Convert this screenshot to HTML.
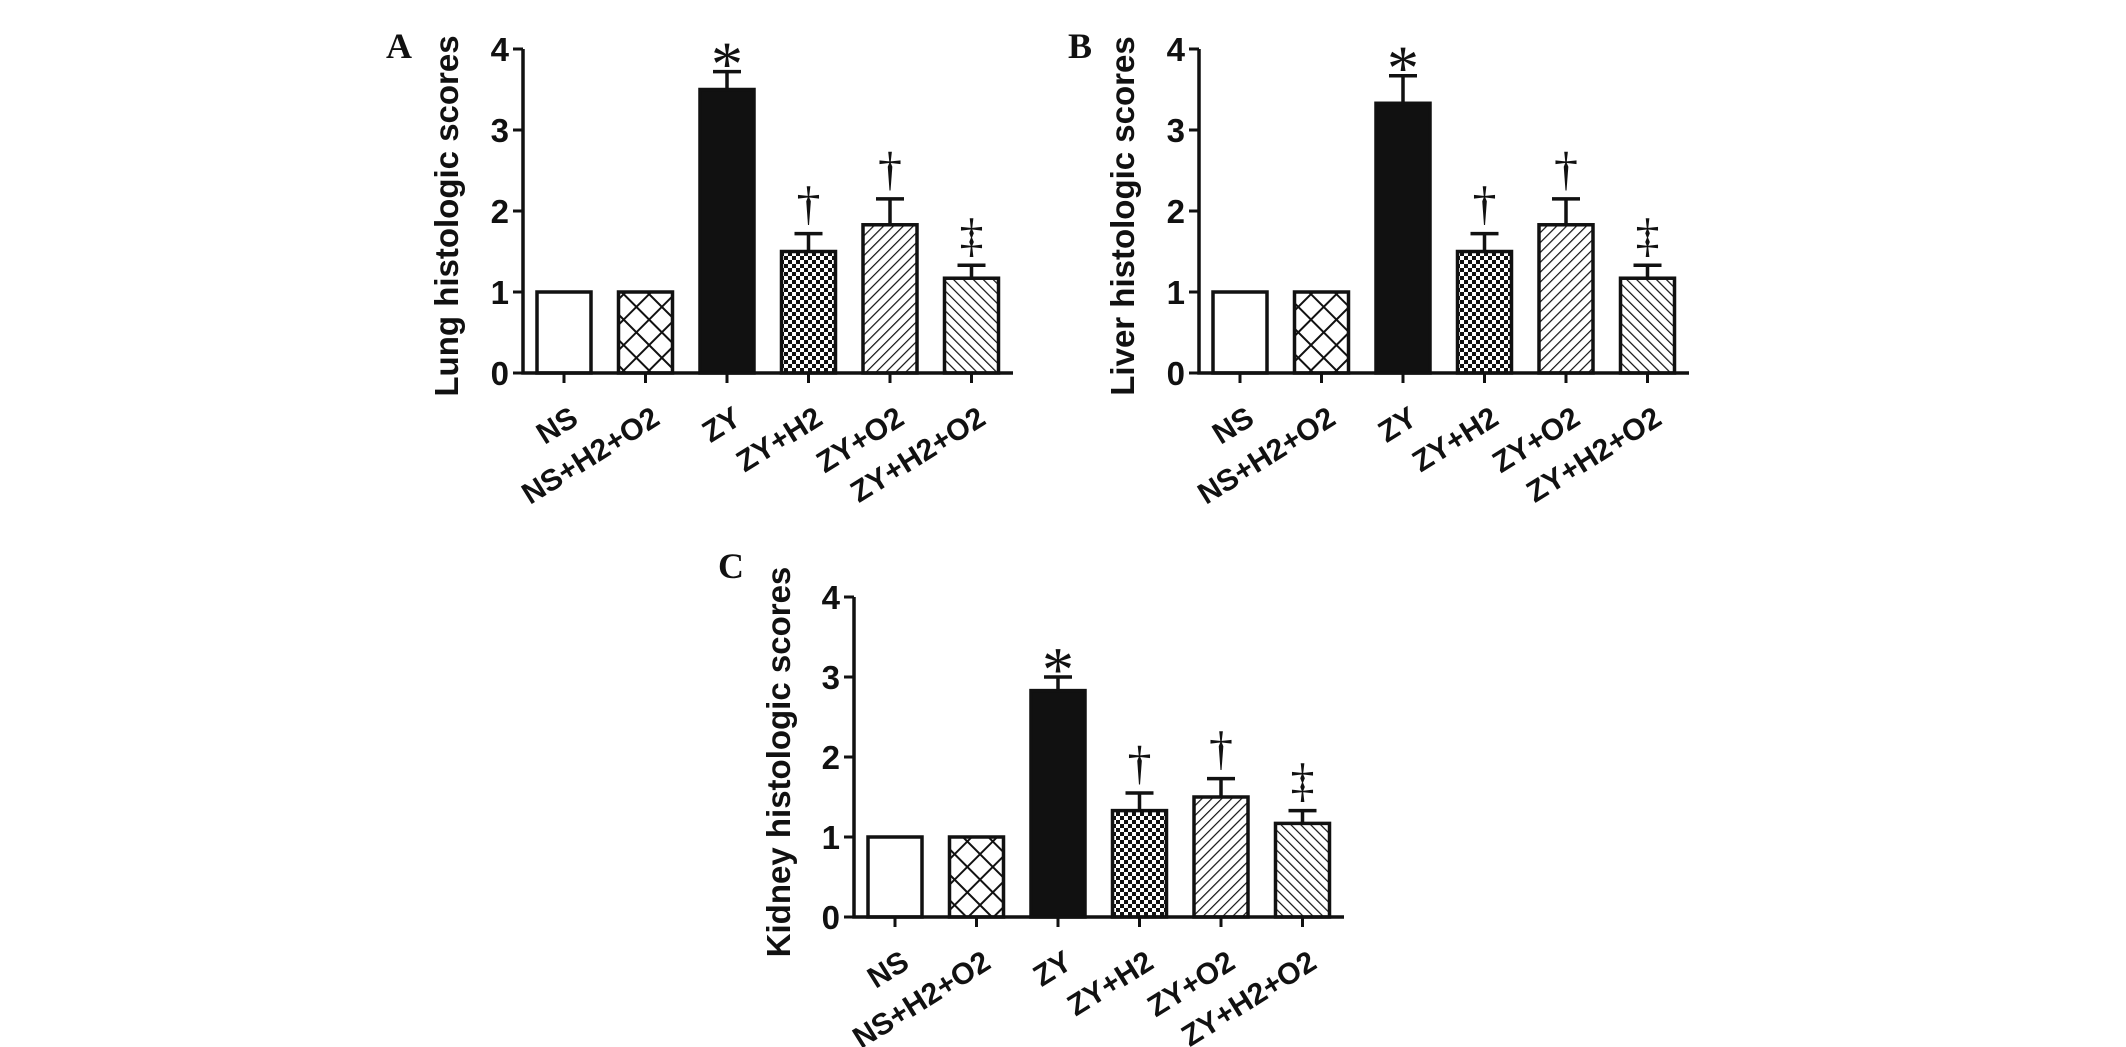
<!DOCTYPE html>
<html><head><meta charset="utf-8">
<style>
html,body{margin:0;padding:0;background:#fff;}
svg{display:block;}
</style></head>
<body>
<svg id="fig" width="2126" height="1047" viewBox="0 0 2126 1047" xmlns="http://www.w3.org/2000/svg">
<defs>
<pattern id="pCross" patternUnits="userSpaceOnUse" width="18" height="18" patternTransform="rotate(45)">
<rect width="18" height="18" fill="#fff"/>
<line x1="0" y1="0" x2="0" y2="18" stroke="#111" stroke-width="4"/>
<line x1="0" y1="0" x2="18" y2="0" stroke="#111" stroke-width="4"/>
</pattern>
<pattern id="pCheck" patternUnits="userSpaceOnUse" width="8" height="8">
<rect width="8" height="8" fill="#fff"/>
<rect x="0" y="0" width="4" height="4" fill="#111"/>
<rect x="4" y="4" width="4" height="4" fill="#111"/>
</pattern>
<pattern id="pFwd" patternUnits="userSpaceOnUse" width="7" height="7" patternTransform="rotate(45)">
<rect width="7" height="7" fill="#fff"/>
<line x1="0" y1="0" x2="0" y2="7" stroke="#111" stroke-width="2.4"/>
</pattern>
<pattern id="pBack" patternUnits="userSpaceOnUse" width="7" height="7" patternTransform="rotate(-45)">
<rect width="7" height="7" fill="#fff"/>
<line x1="0" y1="0" x2="0" y2="7" stroke="#111" stroke-width="2.4"/>
</pattern>
</defs>
</svg>
<script>
const categories = ["NS","NS+H2+O2","ZY","ZY+H2","ZY+O2","ZY+H2+O2"];
const lungMeans = [1,1,3.5,1.5,1.83,1.17];
const lungErr = [0,0,0.22,0.22,0.32,0.16];
const liverMeans = [1,1,3.33,1.5,1.83,1.17];
const liverErr = [0,0,0.34,0.22,0.32,0.16];
const kidneyMeans = [1,1,2.83,1.33,1.5,1.17];
const kidneyErr = [0,0,0.17,0.22,0.23,0.16];
const marks = ["","","*","\u2020","\u2020","\u2021"];
const yTicks = [0,1,2,3,4];
const fills = ["#fff","url(#pCross)","#111","url(#pCheck)","url(#pFwd)","url(#pBack)"];

const NS = "http://www.w3.org/2000/svg";
const svg = document.getElementById('fig');
function mk(tag, attrs, parent){
  const e = document.createElementNS(NS, tag);
  for (const k in attrs) e.setAttribute(k, attrs[k]);
  (parent||svg).appendChild(e);
  return e;
}
const FONT = '"Liberation Sans", Arial, sans-serif';

function panel(cfg, means, errs){
  const g = mk('g', {});
  
  
  const ax = cfg.ax, y0 = cfg.y0, y4 = cfg.y4;
  const yScale = v => y0 - (y0 - y4) * v / 4;
  const xLeft = i => ax + 14 + i * 81.5;
  const bw = 54;
  const L = mk('text', {x: cfg.lx, y: cfg.ly, 'font-family': '"Liberation Serif", serif', 'font-weight': 'bold', 'font-size': 36, fill: '#111'}, g);
  L.textContent = cfg.letter;
  
  
  const yc = (y0 + y4) / 2 + 5;
  const t = mk('text', {x: cfg.tx, y: yc, 'font-family': FONT, 'font-weight': 'bold', 'font-size': 33, 'text-anchor': 'middle', fill: '#111', transform: `rotate(-90 ${cfg.tx} ${yc})`}, g);
  t.textContent = cfg.title;
  
  
  means.forEach((v, i) => {
    const x = xLeft(i), yt = yScale(v);
    const r = mk('rect', {x: x, y: yt, width: bw, height: y0 - yt, fill: fills[i], stroke: '#111', 'stroke-width': 3.5}, g);
    
    
    const cx = x + bw / 2;
    if (errs[i] > 0){
      const ye = yScale(v + errs[i]);
      const el = mk('path', {d: `M${cx} ${yt} V${ye} M${cx-14} ${ye} H${cx+14}`, stroke: '#111', 'stroke-width': 3.5, fill: 'none'}, g);
      
      
      if (marks[i]){
        const star = marks[i] === '*';
        const m = mk('text', {x: cx, y: star ? ye + 14 : ye - 14, 'font-family': '"Liberation Serif", serif', 'font-size': star ? 64 : 48, 'text-anchor': 'middle', fill: '#111'}, g);
        m.textContent = marks[i];
        
        
      }
    }
    const tk = mk('line', {x1: cx, x2: cx, y1: y0, y2: y0 + 10, stroke: '#111', 'stroke-width': 3}, g);
    
    
    const lx = cx + 16, ly = y0 + 50;
    const lab = mk('text', {x: lx, y: ly, 'font-family': FONT, 'font-weight': 'bold', 'font-size': 30, 'text-anchor': 'end', fill: '#111', transform: `rotate(-32 ${lx} ${ly})`}, g);
    lab.textContent = categories[i];
    
    
  });
  const axl = mk('path', {d: `M${ax} ${y4} V${y0} H${ax + 490}`, stroke: '#111', 'stroke-width': 3.5, fill: 'none'}, g);
  
  
  yTicks.forEach(v => {
    const y = yScale(v);
    const tk = mk('line', {x1: ax - 10, x2: ax, y1: y, y2: y, stroke: '#111', 'stroke-width': 3}, g);
    
    
    const tl = mk('text', {x: ax - 14, y: y + 12, 'font-family': FONT, 'font-weight': 'bold', 'font-size': 33, 'text-anchor': 'end', fill: '#111'}, g);
    tl.textContent = v;
    
    
  });
}

panel({name: 'panel-a-lung', letter: 'A', lx: 386, ly: 58, title: 'Lung histologic scores', tx: 458, ax: 523, y0: 373, y4: 49}, lungMeans, lungErr);
panel({name: 'panel-b-liver', letter: 'B', lx: 1068, ly: 58, title: 'Liver histologic scores', tx: 1134, ax: 1199, y0: 373, y4: 49}, liverMeans, liverErr);
panel({name: 'panel-c-kidney', letter: 'C', lx: 718, ly: 578, title: 'Kidney histologic scores', tx: 790, ax: 854, y0: 917, y4: 597}, kidneyMeans, kidneyErr);
</script>
</body></html>
